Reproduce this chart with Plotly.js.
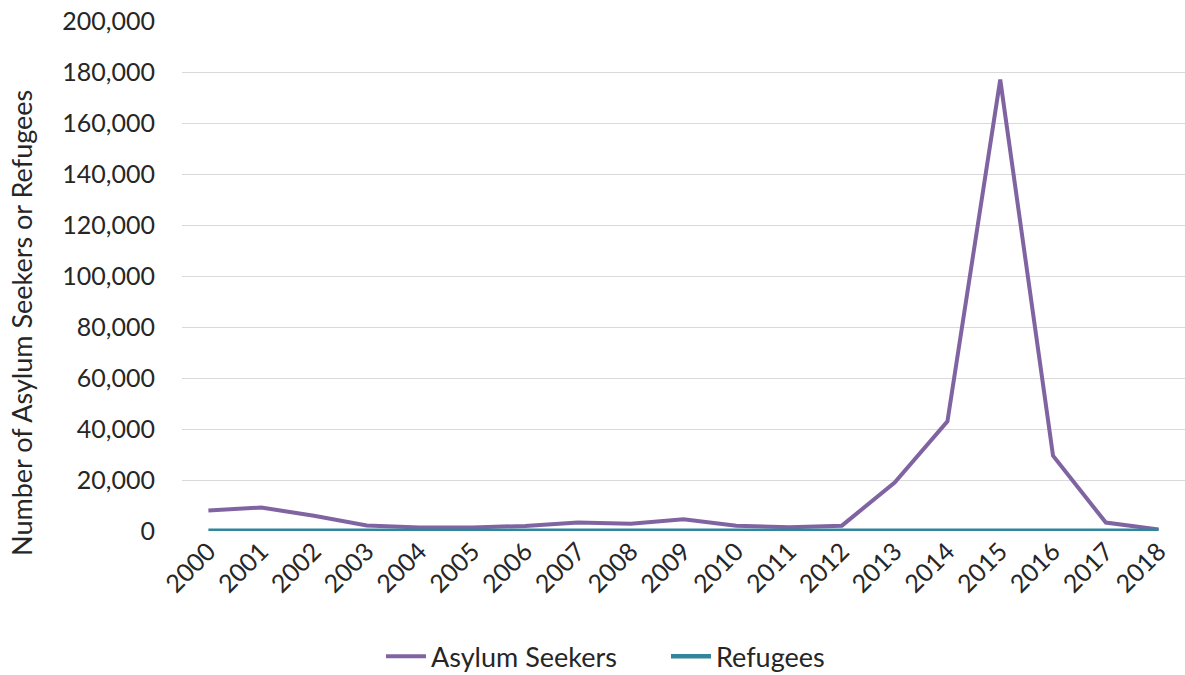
<!DOCTYPE html>
<html><head><meta charset="utf-8">
<script src="https://cdn.plot.ly/plotly-3.0.1.min.js"></script>
<style>html,body{margin:0;padding:0;background:#fff;}#chart{width:1185px;height:675px;}</style>
</head><body><div id="chart"></div>
<script>
const years = ["2000","2001","2002","2003","2004","2005","2006","2007","2008","2009","2010","2011","2012","2013","2014","2015","2016","2017","2018"];
const asylumSeekers = [8000,9200,6000,2200,1400,1400,2000,3300,2800,4600,2100,1500,2100,19000,43000,177000,29500,3300,600];
const refugees = [100,100,100,100,100,100,100,100,100,100,100,100,100,100,100,100,100,100,100];
const yTicks = [0,20000,40000,60000,80000,100000,120000,140000,160000,180000,200000];
const yTitle = 'Number of Asylum Seekers or Refugees';

const font = "Lato, 'Open Sans', sans-serif";
Plotly.newPlot('chart', [
  {x: years, y: asylumSeekers, name: 'Asylum Seekers', type: 'scatter', mode: 'lines',
   line: {color: '#8064a2', width: 4}},
  {x: years, y: refugees, name: 'Refugees', type: 'scatter', mode: 'lines',
   line: {color: '#31859c', width: 4.5}}
], {
  width: 1185, height: 675,
  margin: {l: 182, r: 0, t: 21, b: 144},
  paper_bgcolor: '#fff', plot_bgcolor: '#fff',
  font: {family: font, size: 25, color: '#262626'},
  showlegend: true,
  legend: {orientation: 'h', xref: 'container', x: 0.3215, xanchor: 'left', yref: 'container', y: 0.027, yanchor: 'middle',
           font: {size: 27, color: '#262626'}, itemwidth: 40, tracegroupgap: 0, entrywidth: 230},
  xaxis: {type: 'category', tickangle: -45, showgrid: false, zeroline: false, showline: false,
          ticks: '', tickfont: {size: 25}, range: [-0.5, 18.5], automargin: false},
  yaxis: {range: [0, 200000], tickvals: yTicks, tickformat: ',d', showgrid: true,
          gridcolor: '#d9d9d9', gridwidth: 1, zeroline: false, showline: false, automargin: false,
          ticks: '', ticklabelstandoff: 26, tickfont: {size: 25}},
  annotations: [{text: yTitle, textangle: -90, xref: 'paper', yref: 'paper',
                 x: -0.1595, y: 0.408, xanchor: 'center', yanchor: 'middle', showarrow: false,
                 font: {size: 27, color: '#262626'}}]
}, {displayModeBar: false, staticPlot: true});
</script></body></html>
